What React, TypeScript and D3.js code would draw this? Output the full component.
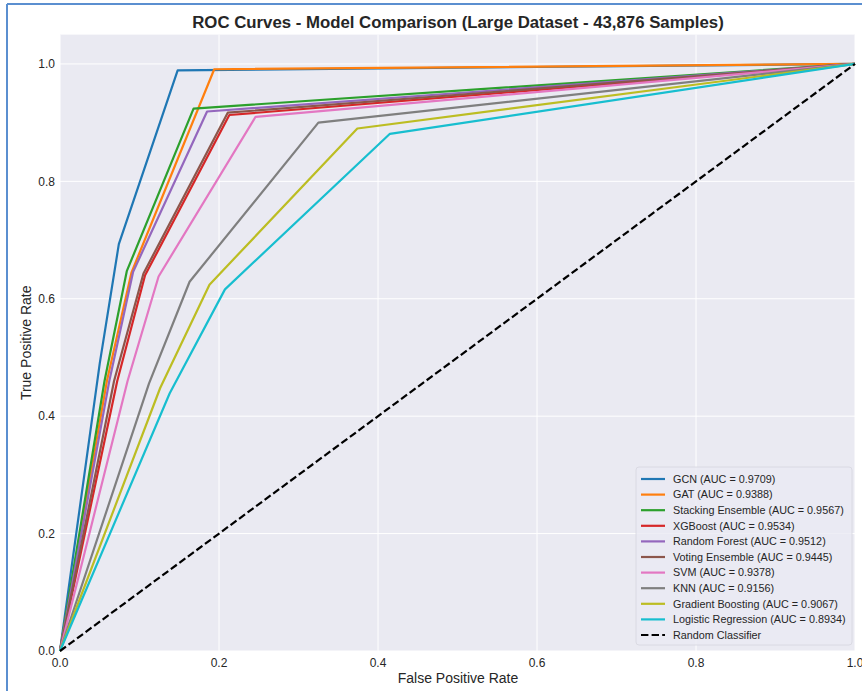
import React from 'react'
import * as d3 from 'd3'

const modelNames = [
  'GCN',
  'GAT',
  'Stacking Ensemble',
  'XGBoost',
  'Random Forest',
  'Voting Ensemble',
  'SVM',
  'KNN',
  'Gradient Boosting',
  'Logistic Regression',
]
const aucValues = ['0.9709', '0.9388', '0.9567', '0.9534', '0.9512', '0.9445', '0.9378', '0.9156', '0.9067', '0.8934']
const modelColors = ['#1f77b4', '#ff7f0e', '#2ca02c', '#d62728', '#9467bd', '#8c564b', '#e377c2', '#7f7f7f', '#bcbd22', '#17becf']

// [fpr, tpr] points
const gcnRoc = [[0, 0], [0.05, 0.49], [0.074, 0.693], [0.148, 0.989], [1, 1]]
const gatRoc = [[0, 0], [0.059, 0.46], [0.09, 0.645], [0.194, 0.991], [1, 1]]
const stackingRoc = [[0, 0], [0.056, 0.46], [0.084, 0.647], [0.168, 0.924], [1, 1]]
const xgbRoc = [[0, 0], [0.072, 0.46], [0.107, 0.64], [0.213, 0.913], [1, 1]]
const rfRoc = [[0, 0], [0.062, 0.46], [0.092, 0.646], [0.185, 0.919], [1, 1]]
const votingRoc = [[0, 0], [0.068, 0.46], [0.105, 0.643], [0.211, 0.917], [1, 1]]
const svmRoc = [[0, 0], [0.085, 0.46], [0.124, 0.638], [0.246, 0.91], [1, 1]]
const knnRoc = [[0, 0], [0.112, 0.456], [0.163, 0.629], [0.325, 0.9], [1, 1]]
const gbRoc = [[0, 0], [0.126, 0.448], [0.188, 0.624], [0.374, 0.89], [1, 1]]
const lrRoc = [[0, 0], [0.138, 0.439], [0.2075, 0.616], [0.415, 0.881], [1, 1]]
const randomLine = [[0, 0], [1, 1]]

const rocCurves = [gcnRoc, gatRoc, stackingRoc, xgbRoc, rfRoc, votingRoc, svmRoc, knnRoc, gbRoc, lrRoc]
const tickValues = [0, 0.2, 0.4, 0.6, 0.8, 1.0]

const W = 862
const H = 691
const left = 60
const right = 855
const top = 34.6
const bottom = 651

const font = '"Liberation Sans", Arial, sans-serif'

export default function App() {
  const x = d3.scaleLinear().domain([0, 1]).range([left, right])
  const y = d3.scaleLinear().domain([0, 1.05]).range([bottom, top])
  const line = d3
    .line<number[]>()
    .x(d => x(d[0]))
    .y(d => y(d[1]))

  const legendX = 636
  const legendY = 467
  const rowH = 15.6

  const legendRows = modelNames.map((m, i) => ({
    label: `${m} (AUC = ${aucValues[i]})`,
    color: modelColors[i],
    dash: undefined as string | undefined,
  }))
  legendRows.push({label: 'Random Classifier', color: '#000', dash: '7.4,3.2'})

  return (
    <svg
      width={W}
      height={H}
      style={{position: 'absolute', left: 0, top: 0, background: '#fff'}}
      fontFamily={font}>
      <rect x={0} y={0} width={W} height={H} fill="#fff" />
      {/* outer frame */}
      <line x1={7} y1={4} x2={W} y2={4} stroke="#5b8fd0" strokeWidth={2} />
      <line x1={7} y1={4} x2={7} y2={H} stroke="#5b8fd0" strokeWidth={2} />

      <text x={458} y={28} textAnchor="middle" fontSize={16.8} fontWeight="bold" fill="#262626">
        ROC Curves - Model Comparison (Large Dataset - 43,876 Samples)
      </text>

      <rect x={left} y={top} width={right - left} height={bottom - top} fill="#eaeaf2" />
      {tickValues.map(t => (
        <g key={'g' + t}>
          <line x1={x(t)} x2={x(t)} y1={top} y2={bottom} stroke="#fff" strokeWidth={1} />
          <line x1={left} x2={right} y1={y(t)} y2={y(t)} stroke="#fff" strokeWidth={1} />
        </g>
      ))}

      {rocCurves.map((c, i) => (
        <path
          key={modelNames[i]}
          d={line(c) || ''}
          fill="none"
          stroke={modelColors[i]}
          strokeWidth={2.2}
          strokeLinejoin="round"
        />
      ))}
      <path d={line(randomLine) || ''} fill="none" stroke="#000" strokeWidth={2.2} strokeDasharray="7.4,3.2" />

      {/* ticks */}
      {tickValues.map(t => (
        <text key={'x' + t} x={x(t)} y={bottom + 16} textAnchor="middle" fontSize={12} fill="#262626">
          {d3.format('.1f')(t)}
        </text>
      ))}
      {tickValues.map(t => (
        <text
          key={'y' + t}
          x={left - 5}
          y={y(t)}
          dy="0.35em"
          textAnchor="end"
          fontSize={12}
          fill="#262626">
          {d3.format('.1f')(t)}
        </text>
      ))}
      <text x={458} y={683} textAnchor="middle" fontSize={14} fill="#262626">
        False Positive Rate
      </text>
      <text
        transform={`translate(31,${(top + bottom) / 2}) rotate(-90)`}
        textAnchor="middle"
        fontSize={14}
        fill="#262626">
        True Positive Rate
      </text>

      {/* legend */}
      <rect
        x={legendX}
        y={legendY}
        width={216}
        height={178}
        rx={3}
        fill="#eaeaf2"
        fillOpacity={0.8}
        stroke="#d6d6de"
        strokeWidth={0.8}
      />
      {legendRows.map((r, i) => {
        const ly = legendY + 12 + i * rowH
        return (
          <g key={r.label}>
            <line
              x1={legendX + 5}
              x2={legendX + 29}
              y1={ly}
              y2={ly}
              stroke={r.color}
              strokeWidth={2.2}
              strokeDasharray={r.dash}
            />
            <text x={legendX + 37} y={ly} dy="0.35em" fontSize={10.8} fill="#262626">
              {r.label}
            </text>
          </g>
        )
      })}
    </svg>
  )
}
